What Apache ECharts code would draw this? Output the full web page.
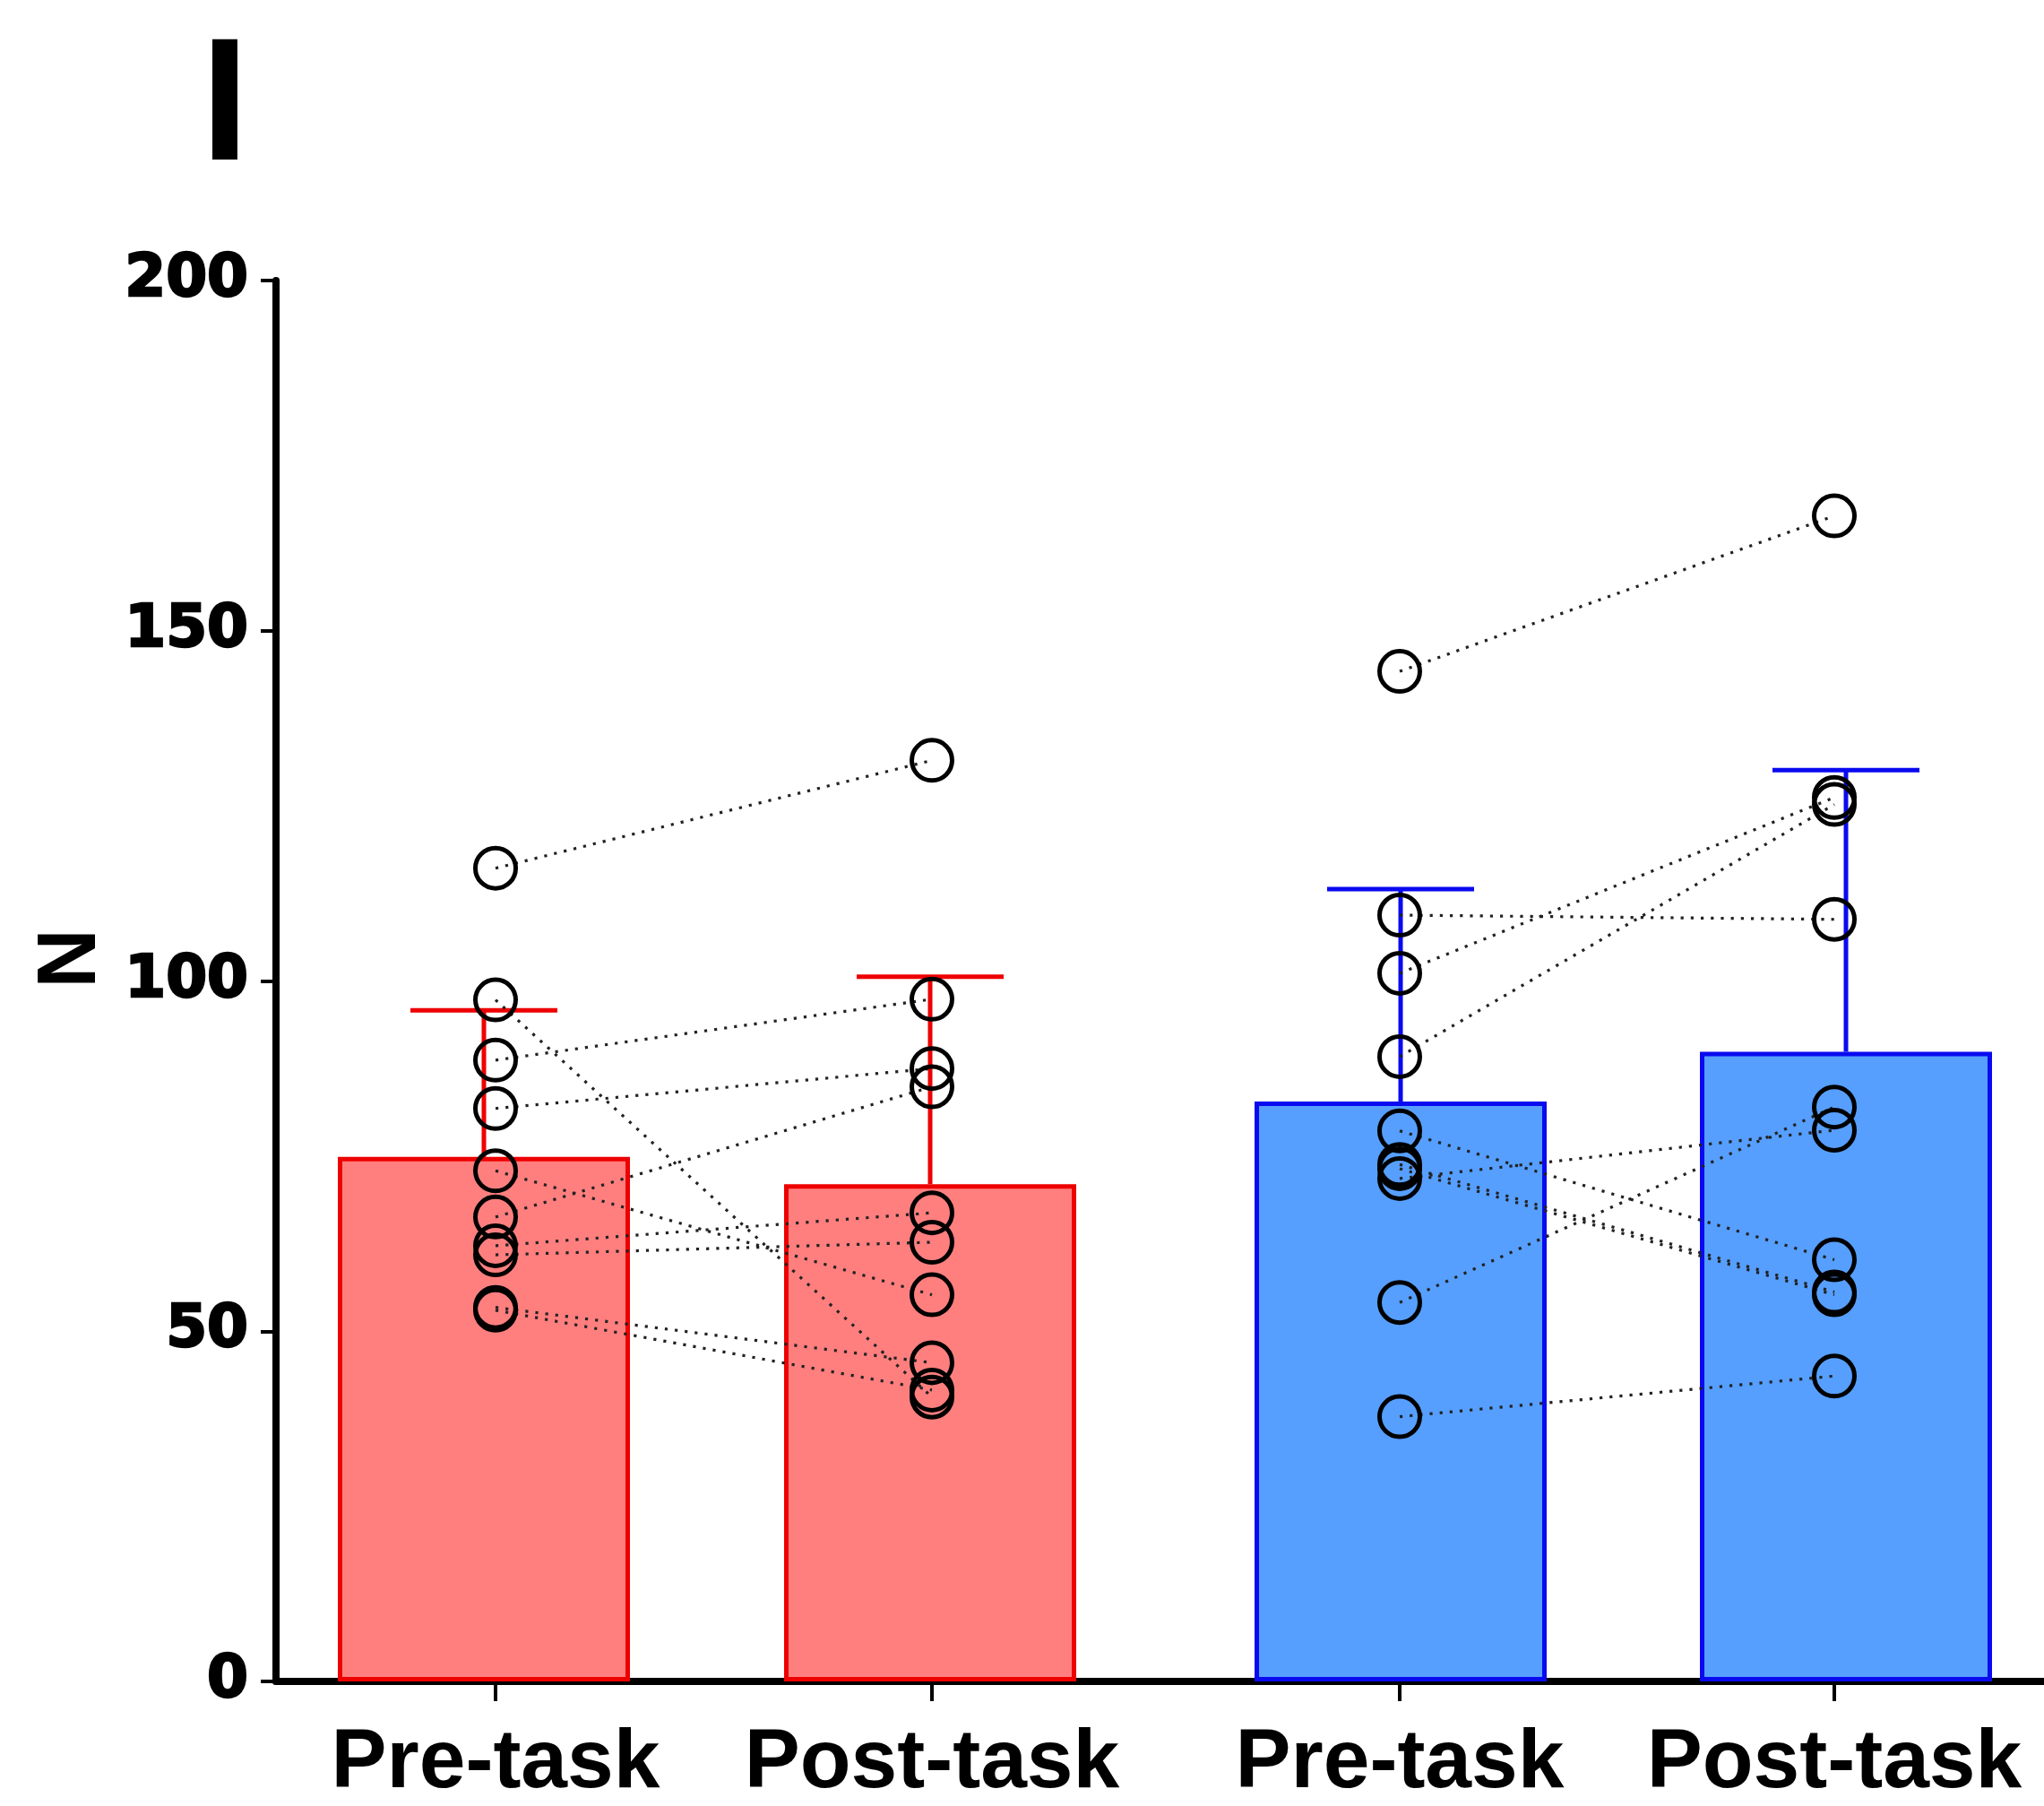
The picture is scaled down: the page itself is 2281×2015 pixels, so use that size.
<!DOCTYPE html>
<html><head><meta charset="utf-8">
<script src="https://cdn.jsdelivr.net/npm/echarts@6/dist/echarts.min.js"></script>
<style>html,body{margin:0;padding:0;background:#fff}#c{width:2281px;height:2015px}</style>
</head><body><div id="c"></div>
<script>
// ---- data ----
const categories = ['Pre-task', 'Post-task', 'Pre-task', 'Post-task'];
const yTicks = [0, 50, 100, 150, 200];
const barMeans = [74.9, 71.0, 82.8, 89.9];
const barSD = [20.9, 29.6, 30.3, 40.2];
const redPre   = [116.1, 97.3, 88.7, 81.8, 72.9, 66.3, 62.2, 60.9, 53.4, 53.0];
const redPost  = [131.5, 40.6, 97.4, 87.5, 55.2, 84.9, 66.9, 62.7, 45.5, 41.6];
const bluePre  = [144.2, 109.4, 101.1, 89.2, 78.6, 73.8, 73.2, 71.8, 54.1, 37.8];
const bluePost = [166.4, 108.8, 126.2, 125.2, 60.2, 55.6, 55.2, 78.7, 82.0, 43.6];
const panelLabel = 'I';
const yName = 'N';

// ---- layout (not data) ----
const X_MAX = 1973;
const pointX = [245, 732, 1254, 1739];
const barX = [232, 730, 1255, 1752];
const fills = ['#FF7F7F', '#FF7F7F', '#569FFF', '#569FFF'];
const strokes = ['#EE0000', '#EE0000', '#0A0AF0', '#0A0AF0'];

const chart = echarts.init(document.getElementById('c'), null, {renderer: 'canvas'});

const series = [];
series.push({
  type: 'bar',
  barWidth: 326,
  z: 1,
  data: barMeans.map((m, i) => ({
    value: [barX[i], m],
    itemStyle: {color: fills[i], borderColor: strokes[i], borderWidth: 5}
  }))
});
series.push({
  type: 'custom',
  z: 2,
  renderItem: function (params, api) {
    const i = params.dataIndex;
    const x = api.value(0), m = api.value(1), s = api.value(2);
    const p0 = api.coord([x, m]);
    const p1 = api.coord([x, m + s]);
    const st = {stroke: strokes[i], lineWidth: 5};
    return {type: 'group', children: [
      {type: 'line', shape: {x1: p0[0], y1: p0[1], x2: p1[0], y2: p1[1]}, style: st},
      {type: 'line', shape: {x1: p1[0] - 82, y1: p1[1], x2: p1[0] + 82, y2: p1[1]}, style: st}
    ]};
  },
  data: barMeans.map((m, i) => [barX[i], m, barSD[i]])
});
function addPairs(pre, post, xa, xb) {
  pre.forEach((v, i) => {
    series.push({
      type: 'line', z: 3, silent: true, symbol: 'none',
      lineStyle: {color: '#222', width: 3.2, type: [3.2, 8]},
      data: [[xa, v], [xb, post[i]]]
    });
  });
}
addPairs(redPre, redPost, pointX[0], pointX[1]);
addPairs(bluePre, bluePost, pointX[2], pointX[3]);
const pts = [];
[[redPre, 0], [redPost, 1], [bluePre, 2], [bluePost, 3]].forEach(([arr, k]) => {
  arr.forEach(v => pts.push([pointX[k], v]));
});
series.push({
  type: 'scatter', z: 4, symbol: 'circle', symbolSize: 45,
  itemStyle: {color: 'rgba(0,0,0,0)', borderColor: '#000', borderWidth: 5, opacity: 1},
  data: pts
});

chart.setOption({
  animation: false,
  backgroundColor: '#fff',
  title: {
    text: panelLabel, left: 224, top: 27, padding: 0,
    textStyle: {fontFamily: 'Liberation Sans', fontWeight: 'bold', fontSize: 194, lineHeight: 194, color: '#000'}
  },
  grid: {left: 308, right: 0, top: 313, bottom: 137, containLabel: false},
  xAxis: {
    type: 'value', min: 0, max: X_MAX,
    splitLine: {show: false},
    axisLine: {show: true, onZero: false, lineStyle: {color: '#000', width: 8}},
    axisTick: {show: true, customValues: pointX, length: 22, lineStyle: {color: '#000', width: 4}},
    axisLabel: {
      show: true, customValues: pointX, margin: 46,
      formatter: v => categories[pointX.indexOf(v)] || '',
      fontFamily: 'Liberation Sans', fontWeight: 'bold', fontSize: 93, lineHeight: 93, color: '#000'
    }
  },
  yAxis: {
    type: 'value', min: yTicks[0], max: yTicks[yTicks.length - 1], interval: 50,
    name: yName, nameLocation: 'middle', nameRotate: 90, nameGap: 167,
    nameTextStyle: {fontFamily: 'Liberation Sans', fontWeight: 'bold', fontSize: 92, color: '#000', padding: [0, 0, 0, 50]},
    splitLine: {show: false},
    axisLine: {show: true, lineStyle: {color: '#000', width: 8}},
    axisTick: {show: true, length: 17, lineStyle: {color: '#000', width: 4}},
    axisLabel: {margin: 31, fontFamily: 'DejaVu Sans', fontWeight: 'bold', fontSize: 66, color: '#000',
      textBorderColor: '#000', textBorderWidth: 2.5}
  },
  series: series
});
</script></body></html>
